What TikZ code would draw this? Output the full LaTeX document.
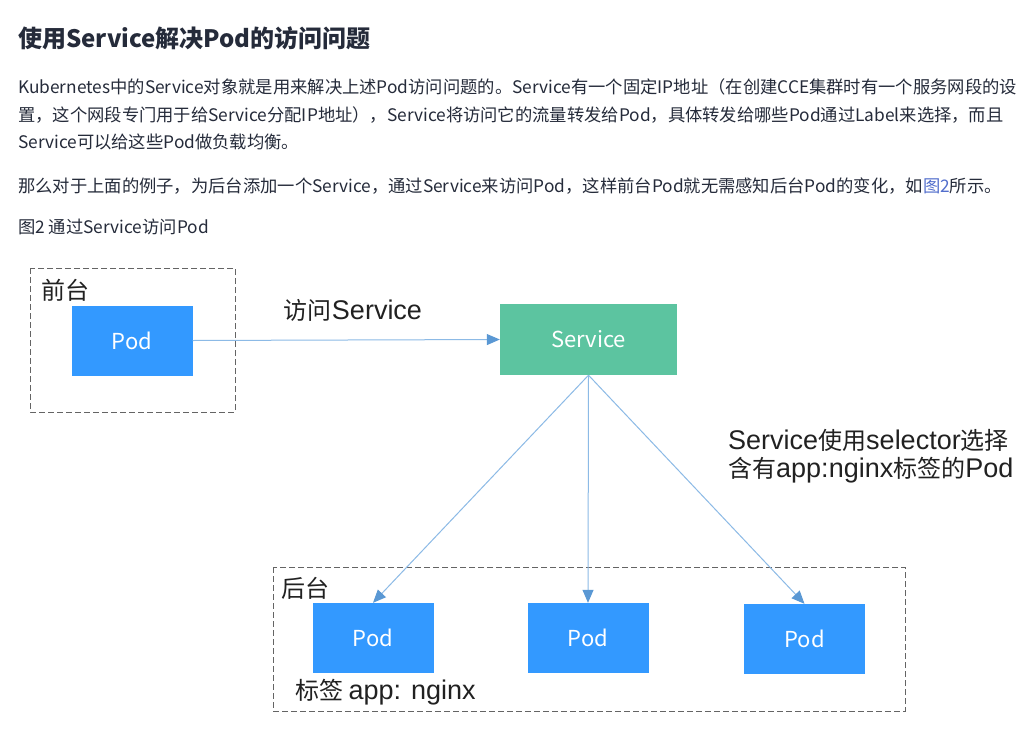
\documentclass[tikz,border=0pt]{standalone}
\usepackage{fontspec}
\setmainfont{Noto Sans CJK SC}
\newfontfamily\latn{Liberation Sans}
\usetikzlibrary{arrows.meta,positioning}
\definecolor{podblue}{RGB}{51,153,255}
\definecolor{svcgreen}{RGB}{92,196,160}
\definecolor{lineblue}{RGB}{140,186,230}
\definecolor{tipblue}{RGB}{90,152,212}
\definecolor{bodytext}{RGB}{37,43,58}
\definecolor{refblue}{RGB}{82,110,204}
\definecolor{dashgray}{RGB}{100,100,100}
\newcommand{\lt}[1]{{\latn\fontsize{27}{28}\selectfont #1}}
\tikzstyle{podbox}=[fill=podblue, text=white, minimum width=121pt, minimum height=70pt, inner sep=0pt, font=\fontsize{22}{26}\selectfont]
\tikzstyle{svcbox}=[fill=svcgreen, text=white, minimum width=177pt, minimum height=71pt, inner sep=0pt, font=\fontsize{22}{26}\selectfont]
\tikzstyle{group}=[draw=dashgray, line width=1pt, dash pattern=on 6pt off 3pt]
\tikzstyle{link}=[draw=lineblue, line width=1pt, -{Triangle[length=13pt, width=11pt, color=tipblue]}]
\tikzstyle{tag}=[inner sep=0pt, text=black!87, font=\fontsize{24}{28}\selectfont]
\tikzstyle{para}=[inner sep=0pt, anchor=base west, text=bodytext, font=\fontsize{17.3}{20}\selectfont]

\begin{document}
\begin{tikzpicture}[x=1pt, y=-1pt]
	\useasboundingbox[fill=white] (0,0) rectangle (1033,755);
	% text above the figure
	\node[para, font=\fontsize{24}{28}\selectfont\bfseries] (title) at (18,47) {使用Service解决Pod的访问问题};
	\node[para] (line1) at (18,93) {Kubernetes中的Service对象就是用来解决上述Pod访问问题的。Service有一个固定IP地址（在创建CCE集群时有一个服务网段的设};
	\node[para] (line2) at (18,121) {置，这个网段专门用于给Service分配IP地址），Service将访问它的流量转发给Pod，具体转发给哪些Pod通过Label来选择，而且};
	\node[para] (line3) at (18,148) {Service可以给这些Pod做负载均衡。};
	\node[para] (line4) at (18,192) {那么对于上面的例子，为后台添加一个Service，通过Service来访问Pod，这样前台Pod就无需感知后台Pod的变化，如\textcolor{refblue}{图2}所示。};
	\node[para] (caption) at (18,233) {图2 通过Service访问Pod};
	% front
	\draw[group] (30,268) rectangle (235,412);
	\node[tag, anchor=west] (fronttag) at (41,290) {前台};
	\node[podbox] (frontpod) at (132,340.5) {Pod};
	% service
	\node[svcbox] (svc) at (588.5,339.5) {Service};
	\node[tag] (visit) at (353,310) {访问\lt{Service}};
	\draw[link] (frontpod.east) -- (svc.west);
	\node[tag, anchor=west, align=left] (selector) at (728,456) {\lt{Service}使用\lt{selector}选择\\含有\lt{app:nginx}标签的\lt{Pod}};
	% back
	\draw[group] (273,567) rectangle (905,711);
	\node[tag, anchor=west] (backtag) at (281,588) {后台};
	\node[podbox] (pod1) at (373,638) {Pod};
	\node[podbox] (pod2) at (588,638) {Pod};
	\node[podbox] (pod3) at (804.5,639) {Pod};
	\node[tag, anchor=west] (label) at (295,692) {标签 \lt{app: nginx}};
	\foreach \p in {pod1,pod2,pod3}
		\draw[link] (svc.south) -- (\p.north);
\end{tikzpicture}
\end{document}
